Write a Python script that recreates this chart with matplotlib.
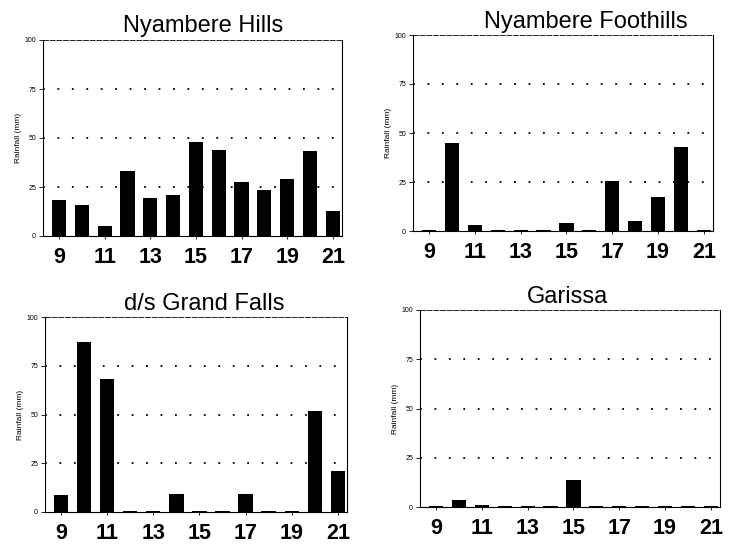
import numpy as np
import matplotlib.pyplot as plt

plt.rcParams['font.family'] = ['Liberation Sans', 'DejaVu Sans']

days = list(range(9, 22))

hills = [18.4, 16, 5.3, 33.3, 19.2, 20.7, 48, 43.7, 27.5, 23.5, 29.2, 43.2, 12.8]
foothills = [0.4, 45, 2.9, 0.4, 0.4, 0.5, 4, 0.5, 25.3, 5, 17.6, 43, 0.5]
grand_falls = [8.8, 87, 68, 0.5, 0.5, 9.2, 0.5, 0.5, 9.4, 0.5, 0.5, 52, 21]
garissa = [0.3, 3.7, 1.2, 0.3, 0.3, 0.3, 13.5, 0.3, 0.3, 0.3, 0.3, 0.3, 0.3]

titles = ["Nyambere Hills", "Nyambere Foothills", "d/s Grand Falls", "Garissa"]
series = [hills, foothills, grand_falls, garissa]
yticks = [0, 25, 50, 75, 100]
xticks = [9, 11, 13, 15, 17, 19, 21]

W, H = 738, 556
# axes boxes in pixels: left, top, right, bottom
boxes = [(43, 40, 342, 236), (413, 35, 713, 231),
         (45, 317, 347, 512), (420, 310, 720, 507)]
# title centre x and baseline y, pixels
title_pos = [(203, 32), (586, 28), (204, 310), (567, 303)]

fig = plt.figure(figsize=(W / 100, H / 100), dpi=100)

for (l, t, r, b), (tx, ty), title, vals in zip(boxes, title_pos, titles, series):
    ax = fig.add_axes([l / W, 1 - b / H, (r - l) / W, (b - t) / H])
    ax.bar(days, vals, width=0.62, color='black')
    ax.set_xlim(8.3, 21.4)
    ax.set_ylim(0, 100)
    ax.set_xticks(xticks)
    ax.set_xticklabels([str(x) for x in xticks], fontsize=15.5, fontweight='bold')
    ax.set_yticks(yticks)
    ax.set_yticklabels([str(y) for y in yticks], fontsize=5)
    ax.tick_params(axis='x', length=2, width=0.6, pad=6)
    ax.tick_params(axis='y', length=3, width=0.6, pad=2)
    for y in yticks[1:4]:
        ax.axhline(y, color='black', linestyle=(0, (1, 7)), linewidth=1.3, zorder=0)
    for sp in ax.spines.values():
        sp.set_linewidth(0.8)
    ax.spines['top'].set_linestyle((0, (6, 2)))
    ax.spines['top'].set_linewidth(0.6)
    ax.set_ylabel("Rainfall (mm)", fontsize=6)
    ax.yaxis.set_label_coords(-0.07, 0.5)
    fig.text(tx / W, 1 - ty / H, title, fontsize=17, ha='center', va='baseline')

fig.savefig("out.png", dpi=100)
